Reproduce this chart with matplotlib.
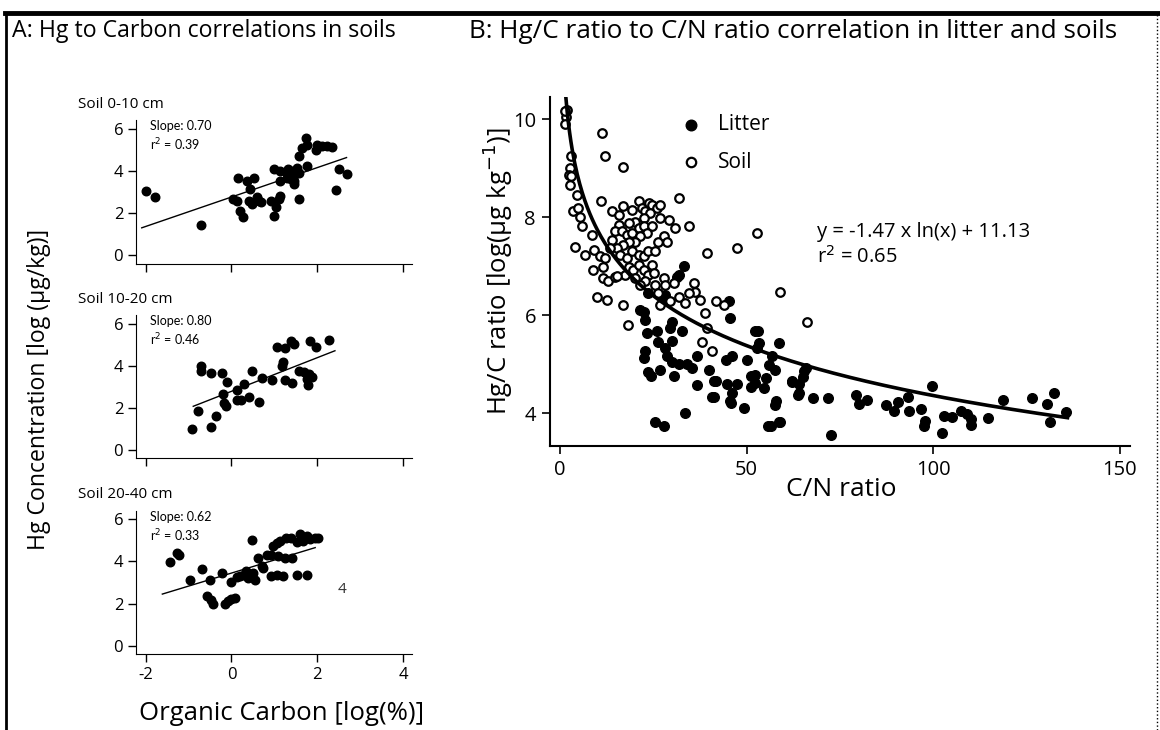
import matplotlib.pyplot as plt
from matplotlib.lines import Line2D
import numpy as np

plt.rcParams['font.family'] = ['Open Sans', 'DejaVu Sans']
plt.rcParams['axes.unicode_minus'] = False

# ---------------- Panel A data: log Organic Carbon vs log Hg ----------------
oc_0_10 = [-1.99, -1.77, -0.72, 0.16, 0.04, 0.13, 0.21, 0.27, 0.37, 0.52, 0.44, 0.40,
           0.48, 0.60, 0.64, 0.69, 0.91, 1.00, 1.00, 1.03, 1.10, 1.14, 1.14, 1.26, 1.38,
           1.30, 1.38, 1.46, 1.49, 1.53, 1.57, 1.57, 1.57, 1.46, 1.65, 1.73, 1.77, 1.75,
           1.96, 2.00, 2.12, 2.23, 2.33, 2.43, 2.50, 2.68, 1.32, 1.14]
hg_0_10 = [3.06, 2.74, 1.41, 3.65, 2.66, 2.59, 2.12, 1.80, 3.53, 3.65, 3.13, 2.59,
           2.43, 2.74, 2.59, 2.51, 2.59, 4.07, 1.88, 2.30, 2.66, 2.82, 4.00, 3.97, 4.00,
           3.68, 3.60, 3.53, 3.84, 4.15, 3.92, 4.73, 2.66, 3.37, 5.09, 5.56, 5.25, 4.23,
           5.00, 5.25, 5.20, 5.20, 5.13, 3.09, 4.07, 3.87, 4.07, 3.53]

oc_10_20 = [-0.91, -0.78, -0.72, -0.70, -0.47, -0.47, -0.37, -0.23, -0.19, -0.18, -0.13,
            -0.10, 0.12, 0.13, 0.23, 0.30, 0.40, 0.48, 0.65, 0.72, 0.95, 1.05, 1.25, 1.19,
            1.17, 1.25, 1.40, 1.39, 1.46, 1.58, 1.69, 1.77, 1.81, 1.84, 1.98, 2.26, 1.87, 1.79]
hg_10_20 = [0.99, 1.84, 3.76, 4.00, 3.68, 1.09, 1.63, 3.68, 2.64, 2.24, 2.11,
            3.23, 2.85, 2.37, 2.40, 3.12, 2.51, 3.76, 2.27, 3.44, 3.33, 4.88, 4.83, 4.16,
            4.00, 3.31, 3.17, 5.20, 5.04, 3.76, 3.71, 3.36, 3.60, 5.20, 4.88, 5.25, 3.49, 3.07]

oc_20_40 = [-1.42, -1.27, -1.22, -0.97, -0.68, -0.51, -0.57, -0.47, -0.43, -0.23, -0.16,
            -0.08, 0.00, 0.08, -0.02, 0.12, 0.19, 0.29, 0.35, 0.39, 0.47, 0.51, 0.54, 0.62,
            0.70, 0.82, 0.93, 0.97, 1.05, 1.13, 1.09, 1.25, 0.93, 1.05, 1.19, 1.28, 1.38,
            1.52, 1.60, 1.67, 1.75, 1.83, 1.95, 2.02, 1.53, 1.77, 0.74, 1.40]
hg_20_40 = [3.97, 4.41, 4.29, 3.14, 3.62, 3.10, 2.35, 2.19, 1.98, 3.46, 1.98,
            2.14, 2.24, 2.27, 3.03, 3.25, 3.30, 3.38, 3.54, 3.22, 5.00, 3.46, 3.14, 4.17,
            3.78, 4.33, 4.33, 4.73, 4.89, 4.97, 4.25, 4.17, 3.30, 3.38, 3.30, 5.13, 5.13,
            4.94, 5.29, 4.97, 5.21, 5.05, 5.13, 5.13, 3.38, 3.35, 3.70, 4.17]

depth_titles = ["Soil 0-10 cm", "Soil 10-20 cm", "Soil 20-40 cm"]
slopes = [0.70, 0.80, 0.62]
intercepts = [2.76, 2.79, 3.45]
r2_values = [0.39, 0.46, 0.33]
line_ranges = [(-2.09, 2.68), (-0.89, 2.41), (-1.61, 1.95)]

# ---------------- Panel B data: C/N ratio vs Hg/C ratio ----------------
litter_cn = [33.2, 31.8, 31.4, 23.7, 28.2, 27.8, 21.5, 22.4, 22.7, 30.0, 29.6, 32.7, 23.3,
             26.0, 26.4, 30.0, 28.2, 22.8, 22.4, 28.7, 30.0, 31.8, 34.0, 35.4, 23.7, 24.5,
             26.9, 30.7, 36.7, 39.9, 41.7, 41.2, 44.8, 47.5, 45.7, 46.1, 49.3, 44.4, 46.1,
             50.2, 51.1, 52.4, 52.4, 51.1, 55.1, 54.7, 57.7, 57.6, 57.8, 56.5, 59.1, 52.4,
             53.3, 52.9, 45.7, 45.2, 53.0, 58.7, 62.3, 64.1, 65.0, 65.4, 65.9, 64.1, 67.7,
             71.7, 72.6, 33.4, 25.5, 27.8, 56.9, 56.0, 36.6, 41.3, 40.7, 45.9, 55.8, 58.7,
             62.2, 63.9,
             79.3, 80.0, 82.3, 87.5, 89.5, 90.5, 93.2, 93.5, 96.8, 97.7, 97.5, 99.8, 102.5,
             102.9, 105.0, 107.5, 109.1, 110.2, 110.2, 114.7, 118.6, 126.4, 130.5, 132.3,
             131.4, 135.5]
litter_hgc = [7.01, 6.82, 6.77, 6.45, 6.41, 6.31, 6.11, 6.07, 5.90, 5.87, 5.73, 5.67, 5.63,
              5.67, 5.46, 5.48, 5.33, 5.26, 5.12, 5.16, 5.05, 5.01, 5.00, 4.92, 4.85, 4.75,
              4.88, 4.75, 5.16, 4.88, 4.65, 4.34, 4.59, 4.59, 4.24, 4.41, 4.10, 5.09, 5.16,
              5.09, 4.75, 4.78, 4.61, 4.54, 4.71, 4.51, 4.88, 4.17, 4.25, 3.73, 3.83, 5.67,
              5.43, 5.33, 5.94, 6.29, 5.67, 5.43, 4.65, 4.59, 4.73, 4.86, 4.92, 4.41, 4.31,
              4.32, 3.56, 4.00, 3.83, 3.73, 5.16, 4.99, 4.58, 4.65, 4.33, 4.20, 3.74, 3.83,
              4.63, 4.38,
              4.38, 4.18, 4.26, 4.16, 4.05, 4.22, 4.34, 4.05, 4.09, 3.85, 3.73, 4.55, 3.59,
              3.95, 3.92, 4.05, 3.99, 3.88, 3.75, 3.90, 4.26, 4.31, 4.19, 4.41,
              3.82, 4.02]

soil_cn = [1.8, 1.5, 1.3, 11.2, 12.1, 17.0, 3.1, 2.7, 2.4, 3.1, 2.7, 4.5, 3.6, 4.9, 5.4,
           5.8, 4.0, 6.7, 8.5, 9.2, 10.8, 12.1, 11.6, 8.9, 11.6, 13.0, 14.8, 9.9, 12.5, 17.0,
           18.3, 11.0, 13.9, 15.7, 17.0, 19.3, 21.1, 22.0, 22.9, 23.8, 24.6, 26.0, 26.9,
           24.2, 22.4, 20.2, 18.4, 15.7, 14.8, 16.6, 17.9, 19.3, 21.1, 22.4, 24.6, 23.3,
           21.5, 20.2, 18.4, 17.0, 15.2, 13.9, 13.4, 16.1, 17.9, 19.3, 21.1, 22.4, 23.7,
           25.5, 26.4, 27.8, 28.7, 26.9, 29.1, 30.9, 34.5, 31.8, 18.4, 19.7, 21.1, 22.4,
           23.7, 24.6, 25.1, 22.9, 21.5, 20.2, 17.5, 15.2, 25.5, 27.8, 28.2, 26.4, 26.9,
           30.5, 31.8, 33.6, 35.8, 36.3, 34.7, 37.6, 39.0, 39.4, 41.7, 43.9, 47.5, 52.9,
           59.1, 66.3, 38.1, 40.8, 39.4, 29.6, 1.3]
soil_hgc = [10.19, 10.05, 9.90, 9.71, 9.24, 9.03, 9.24, 9.01, 8.86, 8.83, 8.66, 8.46, 8.12,
            8.18, 8.01, 7.81, 7.40, 7.23, 7.64, 7.33, 7.20, 7.16, 6.99, 6.93, 6.76, 6.69,
            6.77, 6.38, 6.31, 6.21, 5.79, 8.33, 8.12, 8.05, 8.22, 8.15, 8.32, 8.18, 8.12,
            8.29, 8.25, 8.18, 8.25, 8.09, 7.98, 7.91, 7.88, 7.84, 7.71, 7.71, 7.64, 7.67,
            7.78, 7.81, 7.81, 7.67, 7.61, 7.50, 7.50, 7.44, 7.37, 7.54, 7.37, 7.23, 7.16,
            7.30, 7.23, 7.20, 7.30, 7.30, 7.50, 7.61, 7.50, 7.98, 7.95, 7.78, 7.81, 8.39,
            6.99, 6.93, 7.03, 6.93, 6.82, 7.03, 6.86, 6.69, 6.62, 6.76, 6.82, 6.79, 6.62,
            6.76, 6.62, 6.45, 6.21, 6.65, 6.38, 6.24, 6.65, 6.48, 6.45, 6.31, 6.04, 7.27,
            6.28, 6.21, 7.38, 7.67, 6.48, 5.87, 5.45, 5.27, 5.73, 6.28, 10.16]

fit_a = -1.47
fit_b = 11.13
fit_range = (1.6, 136)

# ==================================================
# FIGURE
# ==================================================
fig = plt.figure(figsize=(11.6, 7.3), dpi=100)

# scanned frame around the figure
fig.add_artist(Line2D([0.004, 1.0], [0.982, 0.982], color="black", lw=3.5))
fig.add_artist(Line2D([0.005, 0.005], [0.0, 0.982], color="black", lw=2))
fig.add_artist(Line2D([0.997, 0.997], [0.0, 0.982], color="black", lw=1, linestyle=":"))

fig.text(0.010, 0.957, "A: Hg to Carbon correlations in soils", fontsize=16.7, va="center")
fig.text(0.404, 0.957, "B: Hg/C ratio to C/N ratio correlation in litter and soils",
         fontsize=18.8, va="center")

# ---------------- Panel A ----------------
oc_sets = [oc_0_10, oc_10_20, oc_20_40]
hg_sets = [hg_0_10, hg_10_20, hg_20_40]
bottoms = [0.639, 0.372, 0.104]

for i in range(3):
    ax = fig.add_axes([0.117, bottoms[i], 0.238, 0.196])
    ax.scatter(oc_sets[i], hg_sets[i], s=38, color="black", zorder=3)
    xs = np.array(line_ranges[i])
    ax.plot(xs, slopes[i] * xs + intercepts[i], color="black", lw=1)
    ax.set_xlim(-2.23, 4.2)
    ax.set_ylim(-0.4, 6.4)
    ax.set_yticks([0, 2, 4, 6])
    ax.set_xticks([-2, 0, 2, 4])
    ax.spines["top"].set_visible(False)
    ax.spines["right"].set_visible(False)
    ax.tick_params(direction="out", length=6, width=1, labelsize=12, pad=3)
    if i < 2:
        ax.tick_params(axis="x", labelbottom=False)
    ax.text(0.05, 0.96, f"Slope: {slopes[i]:.2f}", transform=ax.transAxes,
            fontsize=9, va="center", family="Lato")
    ax.text(0.05, 0.83, f"r$^2$ = {r2_values[i]:.2f}", transform=ax.transAxes,
            fontsize=9, va="center", family="Lato")
    fig.text(0.067, bottoms[i] + 0.218, depth_titles[i], fontsize=11, va="center")
    if i == 2:
        ax.text(2.57, 2.67, "4", fontsize=11, color="#333333", va="center", ha="center")

fig.text(0.034, 0.466, "Hg Concentration [log (µg/kg)]", rotation=90, fontsize=16.6,
         va="center", ha="center")
fig.text(0.243, 0.023, "Organic Carbon [log(%)]", fontsize=18.5, va="center", ha="center")

# ---------------- Panel B ----------------
axb = fig.add_axes([0.474, 0.389, 0.500, 0.478])
axb.scatter(litter_cn, litter_hgc, s=48, color="black", zorder=3, label="Litter")
axb.scatter(soil_cn, soil_hgc, s=38, facecolor="white", edgecolor="black",
            linewidth=1.6, zorder=4, label="Soil")
xf = np.linspace(fit_range[0], fit_range[1], 400)
axb.plot(xf, fit_a * np.log(xf) + fit_b, color="black", lw=2.6, zorder=5)
axb.set_xlim(-2.7, 152.7)
axb.set_ylim(3.33, 10.45)
axb.set_xticks([0, 50, 100, 150])
axb.set_yticks([4, 6, 8, 10])
axb.spines["top"].set_visible(False)
axb.spines["right"].set_visible(False)
axb.spines["left"].set_linewidth(1.5)
axb.spines["bottom"].set_linewidth(1.5)
axb.tick_params(direction="out", length=6, width=1.2, labelsize=14.5, pad=4)
axb.text(0.503, -0.125, "C/N ratio", transform=axb.transAxes, fontsize=19,
         ha="center", va="center")
axb.text(-0.090, 0.5, "Hg/C ratio [log(µg kg$^{-1}$)]", transform=axb.transAxes,
         fontsize=18.5, rotation=90, ha="center", va="center")
axb.legend(loc="upper left", bbox_to_anchor=(0.175, 1.005), frameon=False, fontsize=15,
           handletextpad=0.3, labelspacing=0.8, markerscale=1.1)
axb.text(69, 7.69, "y = -1.47 x ln(x) + 11.13", fontsize=14.5, va="center")
axb.text(69, 7.18, "r$^2$ = 0.65", fontsize=14.5, va="center")

fig.savefig("out.png", dpi=100)
